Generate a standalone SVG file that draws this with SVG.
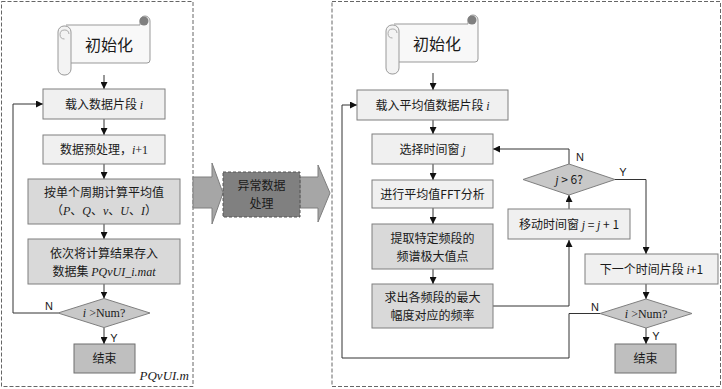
<svg xmlns="http://www.w3.org/2000/svg" width="722" height="389" viewBox="0 0 722 389">
<style>
.panel{fill:none;stroke:#666;stroke-width:1;stroke-dasharray:4 2}
.b1{fill:#f0f0f0;stroke:#7f7f7f;stroke-width:1}
.b2{fill:#d9d9d9;stroke:#7f7f7f;stroke-width:1}
.dm{fill:#c8c8c8;stroke:#7f7f7f;stroke-width:1}
.end{fill:#bfbfbf;stroke:#6f6f6f;stroke-width:1}
.t{font-family:"Noto Sans CJK SC","Noto Sans",sans-serif;font-size:12px;fill:#1a1a1a;text-anchor:middle}
.big{font-size:16px}
.v{font-family:"Liberation Serif",serif;font-style:italic}
.s{font-family:"Liberation Serif",serif}
.lb{font-family:"Liberation Sans",sans-serif;font-size:11px;fill:#1a1a1a;text-anchor:middle}
.c{fill:none;stroke:#333;stroke-width:1}
.ca{fill:none;stroke:#333;stroke-width:1;marker-end:url(#ah)}
</style>
<defs>
<marker id="ah" viewBox="0 0 10 10" refX="10" refY="5" markerWidth="7" markerHeight="7" markerUnits="userSpaceOnUse" orient="auto">
<path d="M0,0 L10,5 L0,10 z" fill="#111"/>
</marker>
<g id="scroll">
<path d="M8,10 H82 V6 A5,5 0 0 1 92,6 V45 Q92,48 89,48 H13" fill="#f8f8f8" stroke="#999"/>
<circle cx="86" cy="6" r="4.5" fill="#7f7f7f"/>
<rect x="0" y="11" width="13" height="49" rx="6" fill="#f3f3f3" stroke="#999"/>
<path d="M6.5,24 A4.5,4.5 0 1 1 11,19" fill="none" stroke="#aaa"/>
</g>
</defs>

<rect class="panel" x="1.5" y="1.5" width="191.5" height="385"/>
<rect class="panel" x="332" y="1.5" width="388.5" height="385"/>

<g id="connectors">
<line class="ca" x1="104" y1="75" x2="104" y2="89"/>
<line class="ca" x1="104" y1="119" x2="104" y2="135"/>
<line class="ca" x1="104" y1="164" x2="104" y2="179"/>
<line class="ca" x1="104" y1="224" x2="104" y2="239"/>
<line class="ca" x1="104" y1="284" x2="104" y2="298.5"/>
<line class="ca" x1="104" y1="327.5" x2="104" y2="344"/>
<polyline class="ca" points="58,313 13,313 13,104 43,104"/>
<text class="lb" x="49" y="310">N</text>
<text class="lb" x="114" y="342">Y</text>

<line class="ca" x1="433" y1="73" x2="433" y2="90"/>
<line class="ca" x1="433" y1="120" x2="433" y2="134"/>
<line class="ca" x1="433" y1="164" x2="433" y2="180"/>
<line class="ca" x1="433" y1="208" x2="433" y2="224"/>
<line class="ca" x1="433" y1="269" x2="433" y2="284"/>
<polyline class="ca" points="493,306 569,306 569,240"/>
<line class="ca" x1="569" y1="209" x2="569" y2="195"/>
<polyline class="ca" points="569,164 569,149 493,149"/>
<polyline class="ca" points="615,179.5 646,179.5 646,254"/>
<line class="ca" x1="646" y1="284" x2="646" y2="299"/>
<line class="ca" x1="646" y1="328" x2="646" y2="344"/>
<polyline class="ca" points="600,313.5 569,313.5 569,358 342,358 342,105 357,105"/>
<text class="lb" x="580" y="161">N</text>
<text class="lb" x="623" y="176">Y</text>
<text class="lb" x="595" y="311">N</text>
<text class="lb" x="656" y="340">Y</text>
</g>

<g id="l-init">
<use href="#scroll" x="58" y="15"/>
<text class="t big" x="109" y="51">初始化</text>
</g>
<g id="l-load">
<rect class="b1" x="43" y="89" width="122" height="30"/>
<text class="t" x="104" y="108.5">载入数据片段 <tspan class="v">i</tspan></text>
</g>
<g id="l-pre">
<rect class="b1" x="43" y="135" width="122" height="29"/>
<text class="t" x="104" y="154">数据预处理，<tspan class="v">i</tspan><tspan class="s">+1</tspan></text>
</g>
<g id="l-avg">
<rect class="b2" x="28" y="179" width="152" height="45"/>
<text class="t" x="104" y="197">按单个周期计算平均值</text>
<text class="t" x="104" y="214.5">（<tspan class="v">P</tspan>、<tspan class="v">Q</tspan>、<tspan class="v">v</tspan>、<tspan class="v">U</tspan>、<tspan class="v">I</tspan>）</text>
</g>
<g id="l-save">
<rect class="b2" x="28" y="239" width="152" height="45"/>
<text class="t" x="104" y="257.5">依次将计算结果存入</text>
<text class="t" x="104" y="275.5">数据集 <tspan class="v">PQvUI_i.mat</tspan></text>
</g>
<g id="l-dec">
<polygon class="dm" points="58,313 104,298.5 150,313 104,327.5"/>
<text class="t" x="104" y="317"><tspan class="v">i</tspan><tspan class="s"> &gt;Num?</tspan></text>
</g>
<g id="l-end">
<rect class="end" x="74" y="344" width="61" height="29"/>
<text class="t" x="104.5" y="363">结束</text>
</g>
<text class="t v" x="189" y="380" style="text-anchor:end;font-size:13px;font-family:'Liberation Serif',serif">PQvUI.m</text>

<g id="mid-arrows">
<polygon points="193,177 212,177 212,163 223,193 212,224 212,208 193,208" fill="#a6a6a6" stroke="#7f7f7f"/>
<polygon points="300,177 318,177 318,165 330,193 318,222 318,208 300,208" fill="#a6a6a6" stroke="#7f7f7f"/>
</g>
<g id="abnormal">
<rect x="223" y="172" width="77" height="45" fill="#808080" stroke="#555" stroke-dasharray="3 2"/>
<text class="t" x="261.5" y="190">异常数据</text>
<text class="t" x="261.5" y="208">处理</text>
</g>

<g id="r-init">
<use href="#scroll" x="386" y="14"/>
<text class="t big" x="437" y="50">初始化</text>
</g>
<g id="r-load">
<rect class="b1" x="357" y="90" width="151" height="30"/>
<text class="t" x="432.5" y="109.5">载入平均值数据片段 <tspan class="v">i</tspan></text>
</g>
<g id="r-win">
<rect class="b1" x="372" y="134" width="121" height="30"/>
<text class="t" x="432.5" y="153.5">选择时间窗 <tspan class="v">j</tspan></text>
</g>
<g id="r-fft">
<rect class="b1" x="372" y="180" width="121" height="28"/>
<text class="t" x="432.5" y="198.5">进行平均值FFT分析</text>
</g>
<g id="r-peak">
<rect class="b2" x="372" y="224" width="121" height="45"/>
<text class="t" x="432.5" y="243">提取特定频段的</text>
<text class="t" x="432.5" y="261">频谱极大值点</text>
</g>
<g id="r-freq">
<rect class="b2" x="372" y="284" width="121" height="44"/>
<text class="t" x="432.5" y="302">求出各频段的最大</text>
<text class="t" x="432.5" y="320">幅度对应的频率</text>
</g>
<g id="r-move">
<rect class="b1" x="508" y="209" width="122" height="30"/>
<text class="t" x="569" y="228.5">移动时间窗 <tspan class="v">j</tspan> = <tspan class="v">j</tspan> + 1</text>
</g>
<g id="r-dec1">
<polygon class="dm" points="523,179.5 569,164 615,179.5 569,195"/>
<text class="t" x="569" y="183.5"><tspan class="v">j</tspan> &gt; 6?</text>
</g>
<g id="r-next">
<rect class="b1" x="585" y="254" width="133" height="30"/>
<text class="t" x="651.5" y="273.5">下一个时间片段 <tspan class="v">i</tspan>+1</text>
</g>
<g id="r-dec2">
<polygon class="dm" points="600,313.5 646,299 692,313.5 646,328"/>
<text class="t" x="646" y="317.5"><tspan class="v">i</tspan><tspan class="s"> &gt;Num?</tspan></text>
</g>
<g id="r-end">
<rect class="end" x="615" y="344" width="61" height="29"/>
<text class="t" x="645.5" y="363">结束</text>
</g>
</svg>
